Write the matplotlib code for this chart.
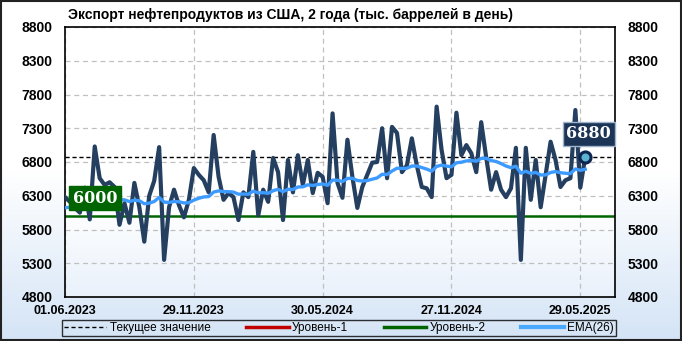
import numpy as np
import pandas as pd
import matplotlib
matplotlib.use('Agg')
import matplotlib.pyplot as plt
import matplotlib.transforms as mtransforms
from matplotlib.lines import Line2D
from matplotlib.patches import Rectangle
from matplotlib.colors import LinearSegmentedColormap

plt.rcParams['font.family'] = ['Liberation Sans', 'DejaVu Sans']

# weekly values, thousand barrels per day
values = [6280, 6210, 6120, 6050, 6420, 5950, 7030, 6560, 6460, 6500,
          6430, 5870, 6190, 5900, 6490, 6130, 5620, 6300, 6520, 7020,
          5350, 6130, 6390, 6160, 5980, 6240, 6710, 6610, 6530, 6350,
          7200, 6580, 6240, 6340, 6280, 5940, 6350, 6280, 6950, 6010,
          6390, 6210, 6860, 6650, 5940, 6830, 6350, 6900, 6460, 6830,
          6340, 6640, 6580, 6190, 7520, 6490, 6270, 7130, 6580, 6120,
          6430, 6610, 6790, 6800, 7300, 6560, 7320, 7230, 6650, 6750,
          7150, 6750, 6430, 6410, 6280, 7620, 6980, 6560, 6610, 7530,
          6900, 7050, 6930, 6650, 7390, 6870, 6390, 6650, 6390, 6280,
          6410, 7010, 5350, 7010, 6240, 6830, 6130, 6610, 7100, 6830,
          6430, 6530, 6560, 7570, 6420, 6880]
tick_pos = [0, 26, 52, 78, 104]
tick_labels = ['01.06.2023', '29.11.2023', '30.05.2024', '27.11.2024', '29.05.2025']
yticks = [4800, 5300, 5800, 6300, 6800, 7300, 7800, 8300, 8800]
level2 = 6000
current = 6880
ema_seed = 6110  # EMA value just before the first shown week
title = 'Экспорт нефтепродуктов из США, 2 года (тыс. баррелей в день)'

# EMA(26) of the series
alpha = 2 / 27
ema = []
e = ema_seed
for v in values:
    e = e + alpha * (v - e)
    ema.append(e)

x = np.arange(len(values))

fig = plt.figure(figsize=(6.82, 3.41), dpi=100)

# figure background gradient
bg = fig.add_axes([0, 0, 1, 1], zorder=-10)
bg_cmap = LinearSegmentedColormap.from_list('bg', ['#ffffff', '#ffffff', '#d4e4f6'])
bg.imshow(np.linspace(0, 1, 256).reshape(-1, 1), cmap=bg_cmap, aspect='auto', extent=[0, 1, 0, 1])
bg.axis('off')
fig.patches.append(Rectangle((0.001, 0.002), 0.997, 0.995, transform=fig.transFigure,
                             fill=False, edgecolor='#222222', lw=1.5))

ax = fig.add_axes([65 / 682, 1 - 297 / 341, 550 / 682, 270 / 341])
pa_cmap = LinearSegmentedColormap.from_list('pa', ['#ffffff', '#ffffff', '#ffffff', '#e9f1fb'])
ax.imshow(np.linspace(0, 1, 256).reshape(-1, 1), cmap=pa_cmap, aspect='auto',
          extent=[0, 1, 0, 1], transform=ax.transAxes, zorder=0)

ax.set_xlim(0, 111)
ax.set_ylim(4800, 8800)
ax.set_yticks(yticks)
ax.set_xticks(tick_pos)
ax.set_xticklabels(tick_labels)
ax.grid(True, color='#c0c0c0', linestyle=(0, (4, 3)), lw=0.9, zorder=1)
ax.tick_params(axis='both', length=0, labelsize=9)
ax.tick_params(axis='y', labelright=True, pad=9)
ax.tick_params(axis='x', pad=6)
for lab in ax.get_xticklabels() + ax.get_yticklabels():
    lab.set_fontweight('bold')
for lab in ax.get_yticklabels():
    lab.set_fontsize(10)
for s in ax.spines.values():
    s.set_color('black')
    s.set_linewidth(1.2)

ax.axhline(current, color='black', linestyle=(0, (3, 2)), lw=1, zorder=2)
ax.axhline(level2, color='#006400', lw=1.8, zorder=2)
ax.plot(x, values, color='#243f60', lw=3, zorder=3, solid_joinstyle='round')
ax.plot(x, ema, color='#3d9bff', lw=2.4, zorder=4)
ax.plot(x[-1], values[-1], 'o', ms=8, mfc='#5ab4d0', mec='#0d2550', mew=2.2, zorder=5)

trans = mtransforms.blended_transform_factory(ax.transAxes, ax.transData)
ax.text(0.014, 6260, f'{level2}', transform=trans, ha='left', va='center', color='white',
        fontsize=11.5, fontweight='bold', family='DejaVu Serif', zorder=6,
        bbox=dict(boxstyle='square,pad=0.22', fc='#006400', ec='#006400'))
ax.text(0.993, 7220, f'{current}', transform=trans, ha='right', va='center', color='white',
        fontsize=11.5, fontweight='bold', family='DejaVu Serif', zorder=6,
        bbox=dict(boxstyle='square,pad=0.22', fc='#1c3557', ec='#a0b4cc', lw=1))

fig.text(68 / 682, 1 - 15 / 341, title, ha='left', va='center', fontsize=10, fontweight='bold')

handles = [Line2D([], [], color='black', linestyle=(0, (3, 2)), lw=1),
           Line2D([], [], color='#c00000', lw=2.5),
           Line2D([], [], color='#006400', lw=2.5),
           Line2D([], [], color='#4aa8ff', lw=3)]
labels = ['Текущее значение', 'Уровень-1', 'Уровень-2', 'EMA(26)']
leg = fig.legend(handles, labels, loc='center', ncol=4, bbox_to_anchor=(0.497, 1 - 328 / 341),
                 frameon=True, fancybox=False, edgecolor='black', fontsize=8.5,
                 handlelength=3.6, handletextpad=0.3, columnspacing=3.0,
                 borderpad=0.2, borderaxespad=0)
leg.get_frame().set_facecolor('none')
leg.get_frame().set_linewidth(1)

fig.savefig('out.png', dpi=100)
